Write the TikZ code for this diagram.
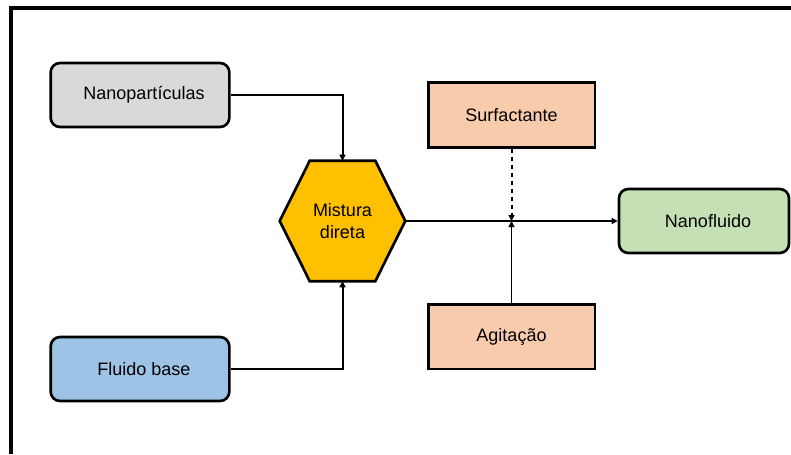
\documentclass[tikz,border=0pt]{standalone}
\usepackage{fontspec}
\setmainfont{Liberation Sans}
\usepackage{xcolor}
\usetikzlibrary{arrows.meta,positioning,backgrounds}

\definecolor{nanogray}{HTML}{D9D9D9}
\definecolor{baseblue}{HTML}{9DC3E6}
\definecolor{mixgold}{HTML}{FFC000}
\definecolor{procpeach}{HTML}{F8CBAD}
\definecolor{fluidgreen}{HTML}{C5E0B4}

\begin{document}
\begin{tikzpicture}[x=0.75pt,y=-0.75pt]
  \tikzset{rbox/.style = {shape=rectangle,draw,rounded corners=7pt,line width=2pt,minimum width=134pt,minimum height=48pt,inner sep=1pt,font=\fontsize{13.5}{16}\selectfont}}
  \tikzset{pbox/.style = {shape=rectangle,draw,line width=2pt,fill=procpeach,minimum width=125pt,minimum height=48.5pt,inner sep=1pt,font=\fontsize{13.5}{16}\selectfont}}
  \tikzset{hexa/.style = {shape=rectangle,minimum width=93.75pt,minimum height=90pt,inner sep=0pt,align=center,font=\fontsize{13.5}{16}\selectfont}}
  \tikzset{edge/.style = {line width=1.5pt,-{Triangle[length=4.5pt,width=4.5pt]}}}
  \tikzset{thinedge/.style = {line width=1pt,-{Triangle[length=4.5pt,width=4.5pt]}}}

  \useasboundingbox (0,0) rectangle (791,454);
  \draw[line width=2.4pt] (11,454) -- (11,8) -- (791,8);

	\node[rbox,fill=nanogray] (nano) at (140,95) {\hspace{6pt}Nanopart\'iculas};
	\node[rbox,fill=baseblue] (base) at (140,369) {\hspace{6pt}Fluido base};

	\node[hexa] (mix) at (342.5,221) {Mistura\\direta};
	\begin{scope}[on background layer]
	\draw[line width=2pt,fill=mixgold] ([xshift=22.5pt]mix.north west) -- ([xshift=-22.5pt]mix.north east) -- (mix.east)
	  -- ([xshift=-22.5pt]mix.south east) -- ([xshift=22.5pt]mix.south west) -- (mix.west) -- cycle;
	\end{scope}

	\node[pbox] (surf) at (511.5,115) {Surfactante};
	\node[pbox] (agit) at (511.5,336.5) {Agita\c{c}\~ao};

	\node[rbox,fill=fluidgreen,minimum width=127.5pt] (fluid) at (704,221) {\hspace{6pt}Nanofluido};

    \draw[edge] (nano.east) -| (mix.north);
    \draw[edge] (base.east) -| (mix.south);
    \draw[edge] (mix.east) -- (fluid.west);
    \draw[edge,dashed] (surf.south) -- (surf.south |- mix.east);
    \draw[thinedge] (agit.north) -- (agit.north |- mix.east);

\end{tikzpicture}
\end{document}
